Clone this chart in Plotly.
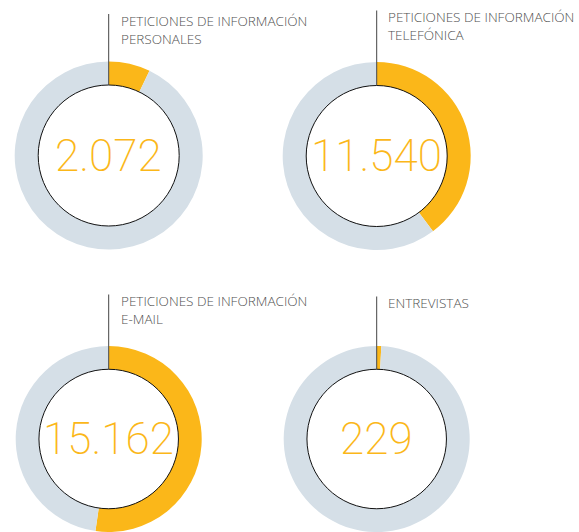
import plotly.graph_objects as go

# Solicitudes atendidas por canal
categorias = [
    "PETICIONES DE INFORMACIÓN<br>PERSONALES",
    "PETICIONES DE INFORMACIÓN<br>TELEFÓNICA",
    "PETICIONES DE INFORMACIÓN<br>E-MAIL",
    "ENTREVISTAS",
]
valores = [2072, 11540, 15162, 229]
total = sum(valores)

AMARILLO = "#FBB719"
GRIS = "#D5DFE7"
TEXTO = "#4F4F4F"

W, H = 579, 532

# centre (px) and outer radius (px) of each ring
centros = [(108.7, 155.5), (376.7, 156.0), (108.7, 439.0), (376.7, 439.0)]
radios = [94, 94, 93, 93]
HOLE = 0.75
# top-left corner of each caption (px)
rotulos = [(118.5, 9.5), (385.5, 6.0), (118.5, 290.0), (385.5, 292.0)]


def fx(px):
    return px / W


def fy(py):
    return 1 - py / H


def estrecho(texto):
    # slightly narrowed face for the captions
    return "<br>".join(
        f'<span style="font-stretch:95%">{linea}</span>' for linea in texto.split("<br>")
    )


fig = go.Figure()
shapes = []
annotations = []

for nombre, v, (cx, cy), r, (tx, ty) in zip(categorias, valores, centros, radios, rotulos):
    fig.add_trace(
        go.Pie(
            values=[v, total - v],
            labels=["valor", "resto"],
            hole=HOLE,
            sort=False,
            direction="clockwise",
            rotation=0,
            marker=dict(colors=[AMARILLO, GRIS], line=dict(width=0)),
            textinfo="none",
            hoverinfo="skip",
            showlegend=False,
            domain=dict(
                x=[fx(cx - r), fx(cx + r)],
                y=[max(0, fy(cy + r)), min(1, fy(cy - r))],
            ),
        )
    )
    ri = r * HOLE
    # thin outline around the hole
    shapes.append(
        dict(
            type="circle", xref="paper", yref="paper",
            x0=fx(cx - ri), x1=fx(cx + ri), y0=fy(cy + ri), y1=fy(cy - ri),
            line=dict(color="#111111", width=1), fillcolor="rgba(0,0,0,0)",
            layer="above",
        )
    )
    # leader line from the caption to the ring
    shapes.append(
        dict(
            type="line", xref="paper", yref="paper",
            x0=fx(cx), x1=fx(cx), y0=fy(ty + 4.5), y1=fy(cy - ri),
            line=dict(color="#444444", width=1), layer="above",
        )
    )
    annotations.append(
        dict(
            text=estrecho(nombre), xref="paper", yref="paper",
            x=fx(tx), y=fy(ty), xanchor="left", yanchor="top",
            showarrow=False, align="left",
            font=dict(family="Open Sans, sans-serif", size=13.5, color=TEXTO, weight=300),
        )
    )
    annotations.append(
        dict(
            text=f"{v:,}".replace(",", "."), xref="paper", yref="paper",
            x=fx(cx), y=fy(cy), xanchor="center", yanchor="middle",
            showarrow=False,
            font=dict(family="Roboto, sans-serif", size=44, color=AMARILLO, weight=200),
        )
    )

fig.update_layout(
    width=W, height=H,
    margin=dict(l=0, r=0, t=0, b=0),
    paper_bgcolor="white", plot_bgcolor="white",
    shapes=shapes, annotations=annotations,
)

fig.write_html("out.html")
